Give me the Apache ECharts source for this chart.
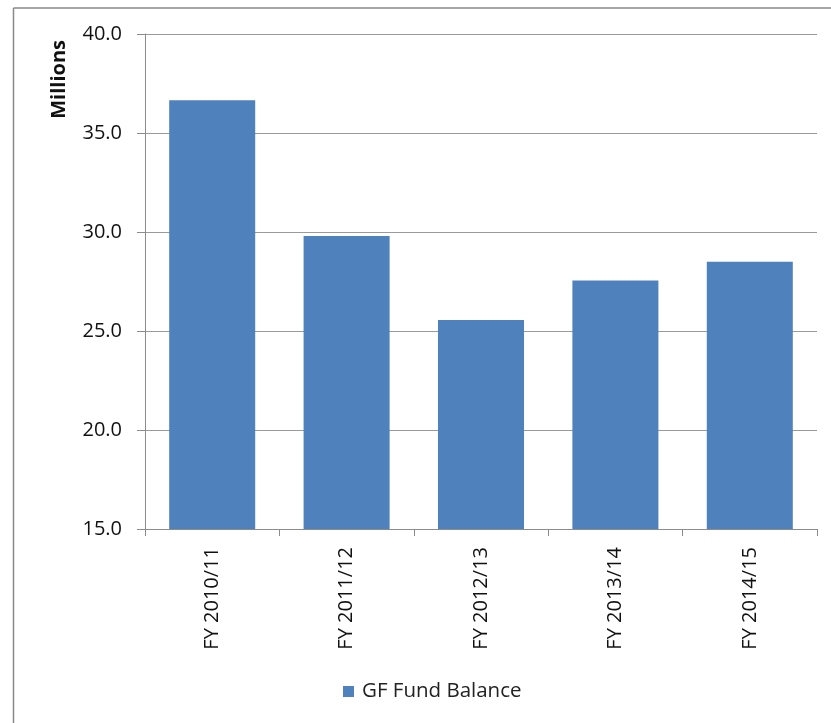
<!DOCTYPE html>
<html>
<head>
<meta charset="utf-8">
<script src="https://cdn.jsdelivr.net/npm/echarts@6/dist/echarts.min.js"></script>
<style>
  html, body { margin: 0; padding: 0; background: #fff; }
  #chart { width: 831px; height: 723px; }
</style>
</head>
<body>
<div id="chart"></div>
<script>
// Fiscal years and general fund balance (millions)
const categories = ['FY 2010/11', 'FY 2011/12', 'FY 2012/13', 'FY 2013/14', 'FY 2014/15'];
const fundBalance = [36.65, 29.8, 25.55, 27.55, 28.5];
const seriesName = 'GF Fund Balance';
const axisTitle = 'Millions';

const FONT = '"Open Sans", "Noto Sans", sans-serif';
const chart = echarts.init(document.getElementById('chart'), null, { renderer: 'canvas' });

chart.setOption({
  backgroundColor: '#ffffff',
  animation: false,
  textStyle: { fontFamily: FONT },
  grid: { left: 145, right: 14, top: 34, bottom: 194, containLabel: false },
  legend: {
    data: [seriesName],
    left: 338, top: 676,
    itemWidth: 11, itemHeight: 11, itemGap: 8,
    icon: 'rect',
    textStyle: { fontSize: 20.5, color: '#222', fontFamily: FONT, padding: [0, 0, 0, 3] }
  },
  xAxis: {
    type: 'category',
    data: categories,
    axisLine: { lineStyle: { color: '#8c8c8c', width: 1 } },
    axisTick: { show: true, length: 7, alignWithLabel: false, lineStyle: { color: '#8c8c8c' } },
    axisLabel: { rotate: 90, fontSize: 20, color: '#111', margin: 18, fontFamily: FONT }
  },
  yAxis: {
    type: 'value',
    min: 15, max: 40, interval: 5,
    name: axisTitle,
    nameLocation: 'end',
    nameRotate: 90,
    nameGap: 0,
    nameTextStyle: { fontSize: 20, fontWeight: 'bold', color: '#111', align: 'right', verticalAlign: 'bottom', padding: [0, 6, 76, 0] },
    axisLine: { show: true, lineStyle: { color: '#8c8c8c', width: 1 } },
    axisTick: { show: true, length: 8, lineStyle: { color: '#8c8c8c' } },
    splitLine: { lineStyle: { color: '#9a9a9a', width: 1 } },
    axisLabel: { fontSize: 20, color: '#111', margin: 23, formatter: v => v.toFixed(1), fontFamily: FONT }
  },
  series: [{
    name: seriesName,
    type: 'bar',
    data: fundBalance,
    barCategoryGap: '36%',
    itemStyle: { color: '#4f81bd' }
  }],
  graphic: [
    { type: 'line', shape: { x1: 13.5, y1: 8, x2: 831, y2: 8 }, style: { stroke: '#8a8a8a', lineWidth: 1.5 } },
    { type: 'line', shape: { x1: 13.5, y1: 8, x2: 13.5, y2: 723 }, style: { stroke: '#8a8a8a', lineWidth: 1.5 } }
  ]
});
</script>
</body>
</html>
